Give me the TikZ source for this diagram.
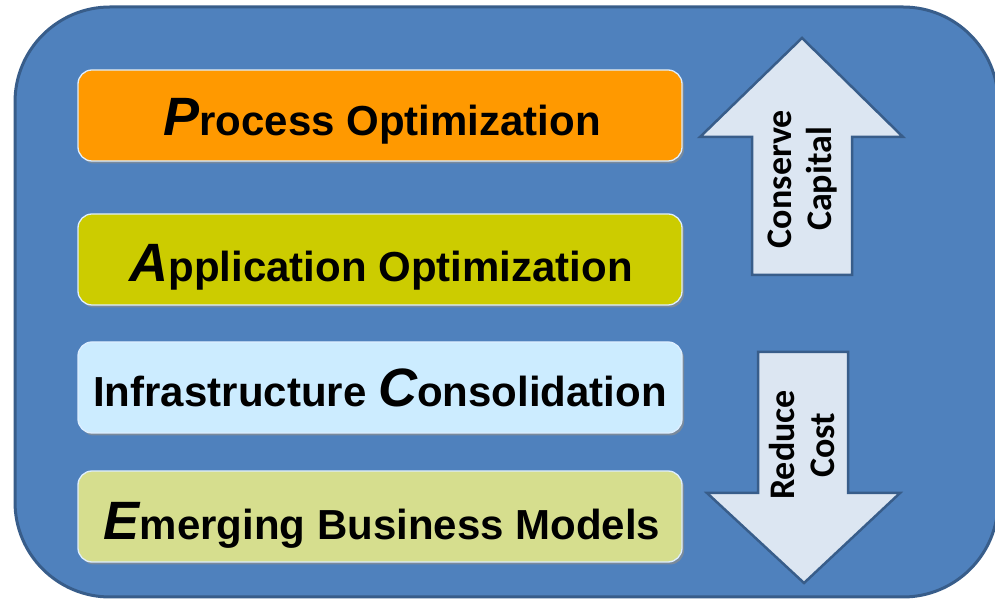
\documentclass[tikz,border=0pt]{standalone}
\usepackage{fontspec}
\setmainfont{Liberation Sans}
\newfontfamily\calfont{Carlito}
\usetikzlibrary{shadows}
\definecolor{outerfill}{HTML}{4F81BD}
\definecolor{outerline}{HTML}{385D8A}
\definecolor{procfill}{HTML}{FF9900}
\definecolor{appfill}{HTML}{CCCC00}
\definecolor{infrafill}{HTML}{CCECFF}
\definecolor{emergfill}{HTML}{D6DE8E}
\definecolor{arrowfill}{HTML}{DCE6F2}
\definecolor{boxedge}{HTML}{DDEEFF}
\definecolor{shadowcol}{HTML}{7A8A9C}
\newcommand{\initialletter}[1]{{\fontsize{54}{54}\selectfont\itshape #1}}
\begin{document}
\begin{tikzpicture}[x=1pt,y=1pt,
  layerbox/.style={rounded corners=14pt, minimum width=604pt, minimum height=91pt,
    draw=boxedge, line width=1.3pt, inner sep=0pt,
    drop shadow={shadow xshift=2pt, shadow yshift=-2.5pt, fill=shadowcol, opacity=1}},
  layertext/.style={anchor=base, inner sep=0pt, font=\fontsize{42}{42}\selectfont\bfseries},
  arrowshape/.style={fill=arrowfill, draw=outerline, line width=2.5pt, line join=miter},
  arrowtext/.style={rotate=90, align=center, font=\calfont\fontsize{36}{40}\selectfont\bfseries}]
\useasboundingbox (0,0) rectangle (995,599);
\fill[white] (0,0) rectangle (995,599);
\draw[fill=outerfill, draw=outerline, line width=3pt, rounded corners=95pt] (15,2) rectangle (998,592);
\node[layerbox, fill=procfill] (proc) at (380,483.5) {};
\node[layerbox, fill=appfill] (app) at (380,339.5) {};
\node[layerbox, fill=infrafill] (infra) at (380,211.5) {};
\node[layerbox, fill=emergfill] (emerg) at (380,82.5) {};
\node[layertext] (proctext) at ([xshift=2pt,yshift=-20.5pt]proc.center) {\initialletter{P}rocess Optimization};
\node[layertext] (apptext) at ([xshift=1pt,yshift=-22.5pt]app.center) {\initialletter{A}pplication Optimization};
\node[layertext] (infratext) at ([yshift=-19.5pt]infra.center) {Infrastructure \initialletter{C}onsolidation};
\node[layertext] (emergtext) at ([xshift=2pt,yshift=-23.5pt]emerg.center) {\initialletter{E}merging Business Models};
\draw[arrowshape] (752,324) -- (752,462) -- (700,462) -- (802,561) -- (903,462) -- (852,462) -- (852,324) -- cycle;
\draw[arrowshape] (758,247) -- (848,247) -- (848,106) -- (900,106) -- (804,16) -- (707,106) -- (758,106) -- cycle;
\node[arrowtext] (up) at (803,420) {Conserve\\Capital};
\node[arrowtext] (down) at (802,154) {Reduce\\Cost};
\end{tikzpicture}
\end{document}
